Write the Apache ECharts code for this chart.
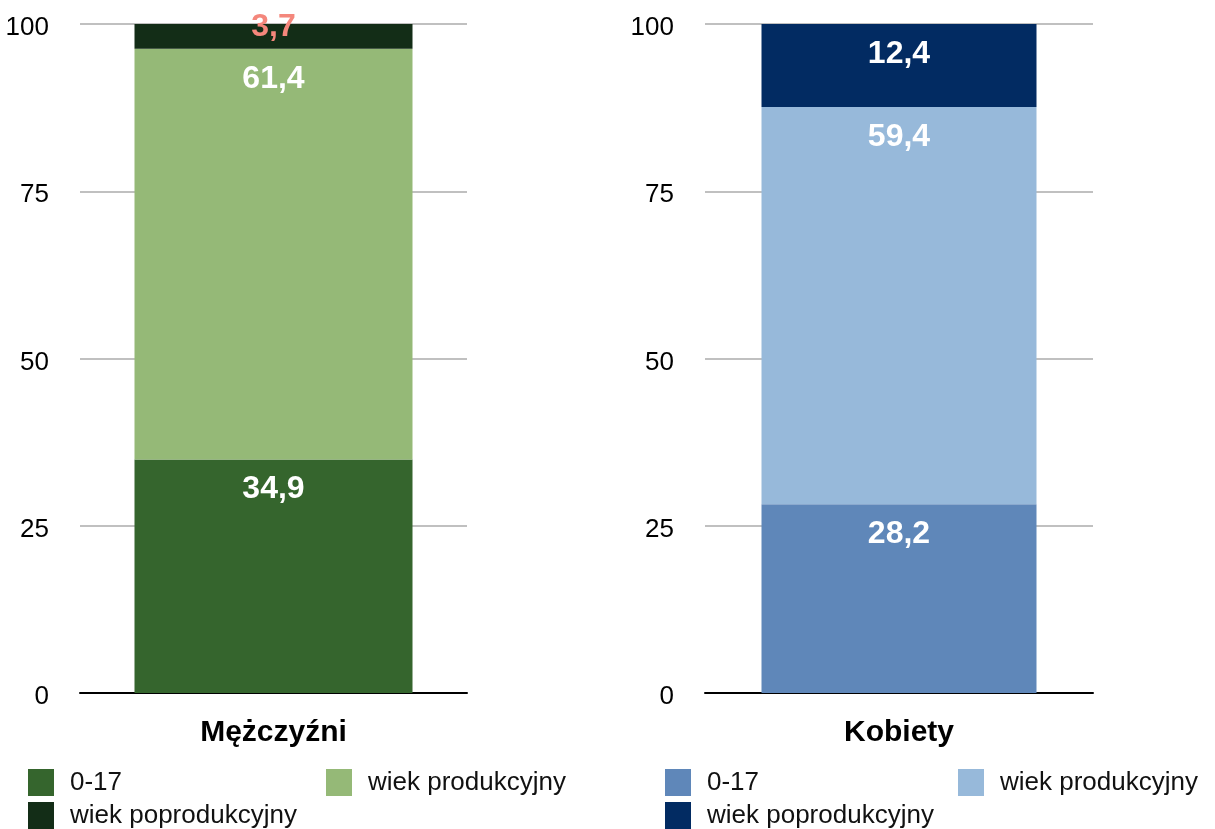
<!DOCTYPE html>
<html>
<head>
<meta charset="utf-8">
<script src="https://cdn.jsdelivr.net/npm/echarts@6/dist/echarts.min.js"></script>
<style>
  html, body { margin: 0; padding: 0; background: #fff; }
  #main { width: 1215px; height: 829px; }
</style>
</head>
<body>
<div id="main"></div>
<script>
const groups = ['Mężczyźni', 'Kobiety'];
const ageGroups = ['0-17', 'wiek produkcyjny', 'wiek poprodukcyjny'];
const menValues = [34.9, 61.4, 3.7];
const womenValues = [28.2, 59.4, 12.4];
const yMin = 0, yMax = 100, yStep = 25;

const menColors = ['#35652d', '#95b977', '#132d17'];
const womenColors = ['#5f87b9', '#97b9da', '#022b62'];

let chart = echarts.init(document.getElementById('main'));
let font = '"Liberation Sans", Arial, Helvetica, sans-serif';

function fmt(v) { return String(v).replace('.', ','); }

function makeSeries(prefix, values, colors, idx) {
    return values.map(function (v, i) {
        let lab = {
            show: true, position: 'insideTop', distance: 14,
            color: '#fff', fontFamily: font, fontWeight: 'bold', fontSize: 32,
            formatter: function (p) { return fmt(p.value); }
        };
        // small top segment: label sticks out over the bar top
        if (v < 5) { lab.offset = [0, -27]; lab.color = '#f4877c'; }
        return {
            name: prefix + ageGroups[i],
            type: 'bar',
            stack: prefix,
            xAxisIndex: idx, yAxisIndex: idx,
            barWidth: idx === 0 ? 278 : 275,
            itemStyle: {color: colors[i]},
            label: lab,
            data: [v]
        };
    });
}

function makeAxisX(idx) {
    return {
        type: 'category', gridIndex: idx, data: [groups[idx]],
        axisLine: {lineStyle: {color: '#000', width: 2}},
        axisTick: {show: false},
        axisLabel: {color: '#000', fontFamily: font, fontWeight: 'bold', fontSize: 30, margin: 25}
    };
}

function makeAxisY(idx) {
    return {
        type: 'value', gridIndex: idx, min: yMin, max: yMax, interval: yStep,
        axisLine: {show: false}, axisTick: {show: false},
        axisLabel: {
            margin: 31,
            formatter: function (v) { return '{t|' + v + '}'; },
            rich: {t: {color: '#000', fontFamily: font, fontSize: 26, padding: [8, 0, 0, 0]}}
        },
        splitLine: {lineStyle: {color: '#c0c0c0', width: 2}}
    };
}

// legend boxes: [prefix, age index, left, top, color]
let legendPos = [
    ['M ', 0, 28, 769, menColors[0]], ['M ', 1, 326, 769, menColors[1]], ['M ', 2, 28, 802, menColors[2]],
    ['K ', 0, 665, 769, womenColors[0]], ['K ', 1, 958, 769, womenColors[1]], ['K ', 2, 665, 802, womenColors[2]]
];
let legends = legendPos.map(function (l) {
    return {
        left: l[2], top: l[3], padding: 0,
        icon: 'rect', itemWidth: 26, itemHeight: 27,
        selectedMode: false,
        data: [{name: l[0] + ageGroups[l[1]], itemStyle: {color: l[4]}}],
        formatter: function (name) { return name.slice(2); },
        textStyle: {color: '#111', fontFamily: font, fontSize: 26, padding: [3, 0, 0, 11]}
    };
});

let option = {
    animation: false,
    legend: legends,
    grid: [
        {left: 80, top: 24, width: 387, height: 669},
        {left: 705, top: 24, width: 388, height: 669}
    ],
    xAxis: [makeAxisX(0), makeAxisX(1)],
    yAxis: [makeAxisY(0), makeAxisY(1)],
    series: makeSeries('M ', menValues, menColors, 0).concat(makeSeries('K ', womenValues, womenColors, 1))
};
chart.setOption(option);
window.onresize = chart.resize;
</script>
</body>
</html>
